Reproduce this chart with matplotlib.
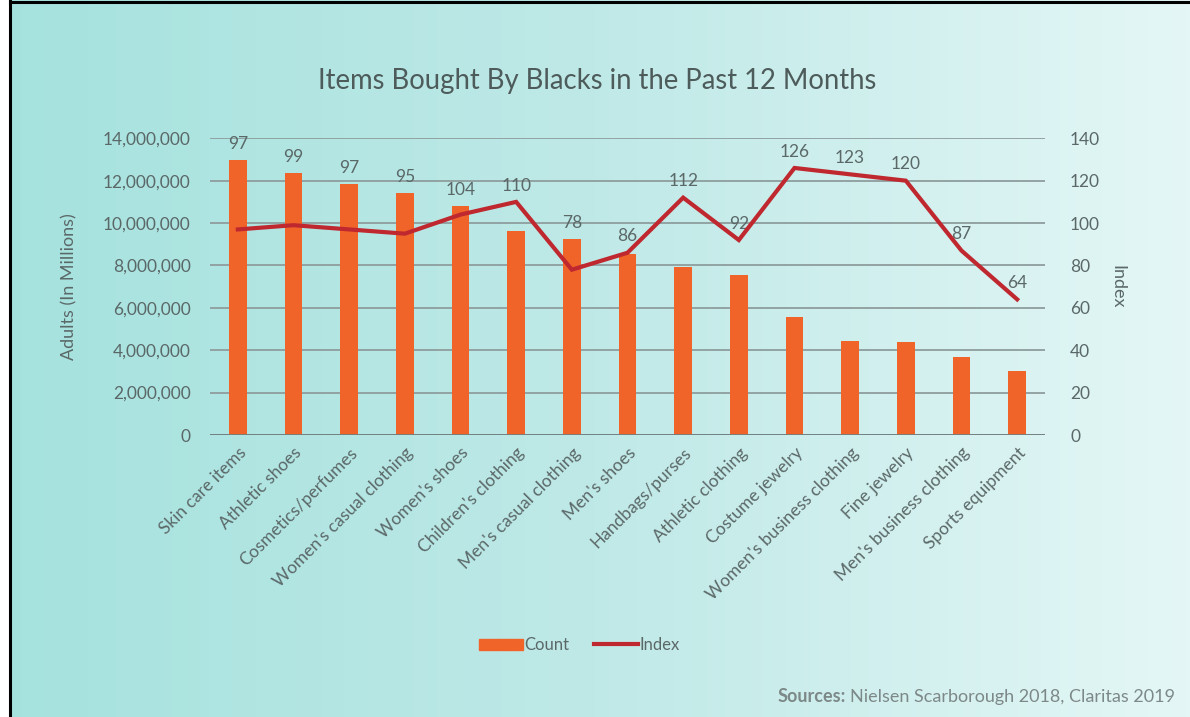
import numpy as np
import matplotlib
matplotlib.use("Agg")
import matplotlib.pyplot as plt
from matplotlib.patches import Patch
from matplotlib.lines import Line2D
from matplotlib.ticker import FuncFormatter

plt.rcParams['font.family'] = ['Lato', 'DejaVu Sans']

categories = ["Skin care items", "Athletic shoes", "Cosmetics/perfumes",
              "Women's casual clothing", "Women's shoes", "Children's clothing",
              "Men's casual clothing", "Men's shoes", "Handbags/purses",
              "Athletic clothing", "Costume jewelry", "Women's business clothing",
              "Fine jewelry", "Men's business clothing", "Sports equipment"]
counts = [12980000, 12350000, 11850000, 11410000, 10810000, 9640000,
          9250000, 8530000, 7910000, 7570000, 5550000, 4450000,
          4370000, 3700000, 3010000]
index_vals = [97, 99, 97, 95, 104, 110, 78, 86, 112, 92, 126, 123, 120, 87, 64]

TXT = '#5b6868'
GRID = '#8e9d9d'
BAR = '#f0642a'
LINE = '#c0282f'

fig = plt.figure(figsize=(11.9, 7.17), dpi=100)

# background gradient
bg = fig.add_axes([0, 0, 1, 1], zorder=-10)
grad = np.linspace(0, 1, 256).reshape(1, -1)
cmap = matplotlib.colors.LinearSegmentedColormap.from_list('bg', ['#a5e2de', '#bfe9e7', '#e4f7f6'])
bg.imshow(grad, aspect='auto', cmap=cmap, extent=[0, 1, 0, 1])
bg.set_xlim(0, 1)
bg.set_ylim(0, 1)
bg.axis('off')
# frame: white strip on the left, black lines at top and left
bg.add_patch(plt.Rectangle((0, 0), 8 / 1190, 1, color='white', zorder=2))
bg.plot([9.5 / 1190, 9.5 / 1190], [0, 1], color='black', lw=2.2, zorder=3)
bg.plot([9.5 / 1190, 1], [1 - 2 / 717, 1 - 2 / 717], color='black', lw=2.2, zorder=3)

ax = fig.add_axes([210 / 1190, 1 - 435 / 717, 835 / 1190, 296.7 / 717])
ax.patch.set_alpha(0)
x = np.arange(len(categories))
ax.bar(x, counts, width=0.32, color=BAR, zorder=3)
ax.set_xlim(-0.5, len(categories) - 0.5)
ax.set_ylim(0, 14000000)
ax.set_yticks(np.arange(0, 14000001, 2000000))
ax.yaxis.set_major_formatter(FuncFormatter(lambda v, p: f"{int(v):,}"))
ax.grid(axis='y', color=GRID, lw=1.3, zorder=0)
for s in ax.spines.values():
    s.set_visible(False)
ax.axhline(0, color='#6f7f7f', lw=2, zorder=4)
ax.tick_params(axis='y', length=0, pad=14, labelsize=12.5, labelcolor=TXT)
ax.tick_params(axis='x', length=0, pad=7)
ax.set_xticks(x)
ax.set_xticklabels(categories, rotation=45, ha='right', rotation_mode='anchor',
                   fontsize=12.5, color=TXT)
ax.set_ylabel("Adults (In Millions)", fontsize=13, color=TXT, labelpad=18)

ax2 = ax.twinx()
ax2.set_ylim(0, 140)
ax2.set_yticks(np.arange(0, 141, 20))
for s in ax2.spines.values():
    s.set_visible(False)
ax2.tick_params(axis='y', length=0, pad=18, labelsize=12.5, labelcolor=TXT)
ax2.plot(x, index_vals, color=LINE, lw=3, zorder=5, solid_joinstyle='miter')
ax2.set_ylabel("Index", fontsize=13, color=TXT, rotation=-90, labelpad=18)

for xi, iv, c in zip(x, index_vals, counts):
    top = max(iv, c / 100000)
    ax2.annotate(str(iv), (xi, top), xytext=(0, 6), textcoords='offset points',
                 ha='center', va='bottom', fontsize=12.5, color=TXT)

fig.suptitle("Items Bought By Blacks in the Past 12 Months", x=0.502, y=0.905,
             fontsize=19.8, color='#4e5b5b')

handles = [Patch(color=BAR, label='Count'),
           Line2D([0], [0], color=LINE, lw=3, label='Index')]
fig.legend(handles=handles, loc='center', bbox_to_anchor=(0.487, 0.1), ncol=2,
           frameon=False, fontsize=12, labelcolor=TXT, handlelength=2.6,
           handletextpad=0.1, columnspacing=1.5)

src = fig.text(0.987, 0.028, "Nielsen Scarborough 2018, Claritas 2019", ha='right',
               va='center', fontsize=13, color='#7d8888')
fig.canvas.draw()
bb = src.get_window_extent()
fig.text(bb.x0 / 1190 - 0.003, 0.028, "Sources:", ha='right', va='center',
         fontsize=13, color='#7d8888', fontweight='bold')

fig.savefig("out.png", dpi=100)
